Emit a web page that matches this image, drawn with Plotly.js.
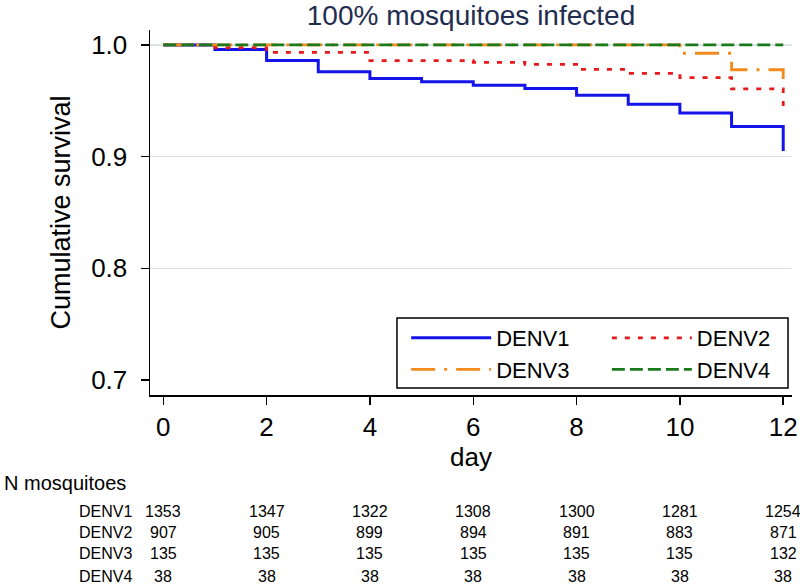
<!DOCTYPE html>
<html><head><meta charset="utf-8">
<script src="https://cdn.plot.ly/plotly-3.0.1.min.js"></script>
<style>html,body{margin:0;padding:0;background:#fff}</style>
</head><body><div id="chart" style="width:800px;height:585px"></div>
<script>
// ---- data ----
const days = [0,1,2,3,4,5,6,7,8,9,10,11,12];
const denv1 = [1,0.996,0.986,0.976,0.970,0.967,0.964,0.961,0.955,0.947,0.939,0.927,0.905];
const denv2 = [1,0.9976,0.9934,0.9934,0.986,0.986,0.9845,0.9827,0.9782,0.9746,0.9707,0.9606,0.9454];
const denv3 = [1,1,1,1,1,1,1,1,1,1,0.9926,0.9778,0.963];
const denv4 = [1,1,1,1,1,1,1,1,1,1,1,1,1];
const seriesNames = ['DENV1','DENV2','DENV3','DENV4'];
const yTicks = [0.7,0.8,0.9,1.0];
const yTickText = ['0.7','0.8','0.9','1.0'];
const gridTicks = [0.8,0.9,1.0];
const xTicks = [0,2,4,6,8,10,12];
const riskDays = [0,2,4,6,8,10,12];
const riskDENV1 = [1353,1347,1322,1308,1300,1281,1254];
const riskDENV2 = [907,905,899,894,891,883,871];
const riskDENV3 = [135,135,135,135,135,135,132];
const riskDENV4 = [38,38,38,38,38,38,38];
const riskTitle = 'N mosquitoes';

// ---- styling ----
const FONT = 'Liberation Sans, Arial, Helvetica, sans-serif';
const yr = [0.6866, 1.0134];
const xr = [-0.257, 12.17];

const traces = [
  {x: days, y: denv1, name: seriesNames[0], mode:'lines', line:{shape:'hv', color:'#1414ea', width:3}, legend:'legend'},
  {x: days, y: denv2, name: seriesNames[1], mode:'lines', line:{shape:'hv', color:'#e8191b', width:2.8, dash:'5px,8px'}, legend:'legend2'},
  {x: days, y: denv3, name: seriesNames[2], mode:'lines', line:{shape:'hv', color:'#f28a1c', width:2.8, dash:'24px,9px,3px,9px'}, legend:'legend'},
  {x: days, y: denv4, name: seriesNames[3], mode:'lines', line:{shape:'hv', color:'#1b7a1b', width:2.8, dash:'13px,5px'}, legend:'legend2'},
  {x: [], y: [], yaxis:'y2', showlegend:false, hoverinfo:'skip'}
];

const rows = [riskDENV1, riskDENV2, riskDENV3, riskDENV4];
const rowY = [-0.3205, -0.378, -0.4329, -0.4986];
const annotations = [];
annotations.push({text: riskTitle, xref:'paper', yref:'paper', x:-0.2305, y:-0.241, xanchor:'left', yanchor:'middle', showarrow:false, font:{family:FONT, size:20, color:'#000'}});
rows.forEach((vals, r) => {
  annotations.push({text: seriesNames[r], xref:'paper', yref:'paper', x:-0.1137, y:rowY[r], xanchor:'left', yanchor:'middle', showarrow:false, font:{family:FONT, size:16, color:'#000'}});
  vals.forEach((v, i) => {
    annotations.push({text: String(v), xref:'x', yref:'paper', x:riskDays[i], y:rowY[r], xanchor:'center', yanchor:'middle', showarrow:false, font:{family:FONT, size:16, color:'#000'}});
  });
});

const legendCommon = {bgcolor:'rgba(0,0,0,0)', borderwidth:0, font:{family:FONT, size:22, color:'#000'}, itemwidth:80, xanchor:'left', yanchor:'top', tracegroupgap:0, traceorder:'normal'};

const layout = {
  width:800, height:585,
  margin:{l:150, r:8, t:30, b:190},
  paper_bgcolor:'#fff', plot_bgcolor:'#fff',
  title:{text:'100% mosquitoes infected', x:0.5, xref:'paper', xanchor:'center', y:0.9735, yref:'container', yanchor:'middle', pad:{t:0,b:0}, font:{family:FONT, size:28, color:'#1f2d50'}},
  xaxis:{range:xr, tickvals:xTicks, ticktext:xTicks.map(String), showgrid:false, zeroline:false, showline:true, linecolor:'#000', linewidth:1.5,
         ticks:'outside', ticklen:8, tickwidth:1.5, tickcolor:'#000', ticklabelstandoff:0,
         tickfont:{family:FONT, size:26, color:'#000'},
         title:{text:'day', standoff:4, font:{family:FONT, size:26, color:'#000'}}},
  yaxis:{range:yr, tickvals:yTicks, ticktext:yTickText, showgrid:false, zeroline:false, showline:true, linecolor:'#000', linewidth:1.5,
         ticks:'outside', ticklen:8, tickwidth:1.5, tickcolor:'#000', ticklabelstandoff:8,
         tickfont:{family:FONT, size:26, color:'#000'},
         title:{text:'Cumulative survival', standoff:12, font:{family:FONT, size:27, color:'#000'}}},
  yaxis2:{range:yr, overlaying:'y', tickvals:gridTicks, showgrid:true, gridcolor:'#dbe4e9', gridwidth:1.5, showticklabels:false, ticks:'', showline:false, zeroline:false},
  showlegend:true,
  legend:Object.assign({}, legendCommon, {x:0.399, y:0.2135}),
  legend2:Object.assign({}, legendCommon, {x:0.7116, y:0.2135}),
  shapes:[{type:'rect', xref:'paper', yref:'paper', x0:0.3847, x1:0.9938, y0:0.0192, y1:0.211, line:{color:'#000', width:1.5}, fillcolor:'#fff', layer:'above'}],
  annotations:annotations
};

Plotly.newPlot('chart', traces, layout, {displayModeBar:false, staticPlot:true});
</script></body></html>
